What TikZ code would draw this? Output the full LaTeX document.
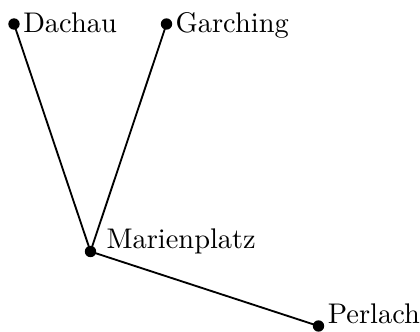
\documentclass[tikz,border=0pt]{standalone}
\begin{document}
\begin{tikzpicture}[x=0.352pt,y=-0.352pt,
  station/.style={circle,fill=black,inner sep=0pt,minimum size=4pt},
  place/.style={inner sep=0pt,anchor=base west},
  route/.style={line width=0.65pt}]
\useasboundingbox (0,0) rectangle (420,331);
% stations
\node[station] (dachau) at (14,24) {};
\node[station] (garching) at (166.5,24) {};
\node[station] (marienplatz) at (90.5,251.5) {};
\node[station] (perlach) at (318.5,326) {};
% names
\node[place] (ldachau) at ([shift={(8.7,8.3)}]dachau.center) {Dachau};
\node[place] (lgarching) at ([shift={(8.5,8.3)}]garching.center) {Garching};
\node[place] (lmarienplatz) at ([shift={(15.5,-3.2)}]marienplatz.center) {Marienplatz};
\node[place] (lperlach) at ([shift={(8.8,-2.7)}]perlach.center) {Perlach};
% connections
\draw[route] (dachau.center) -- (marienplatz.center);
\draw[route] (garching.center) -- (marienplatz.center);
\draw[route] (marienplatz.center) -- (perlach.center);
\end{tikzpicture}
\end{document}
